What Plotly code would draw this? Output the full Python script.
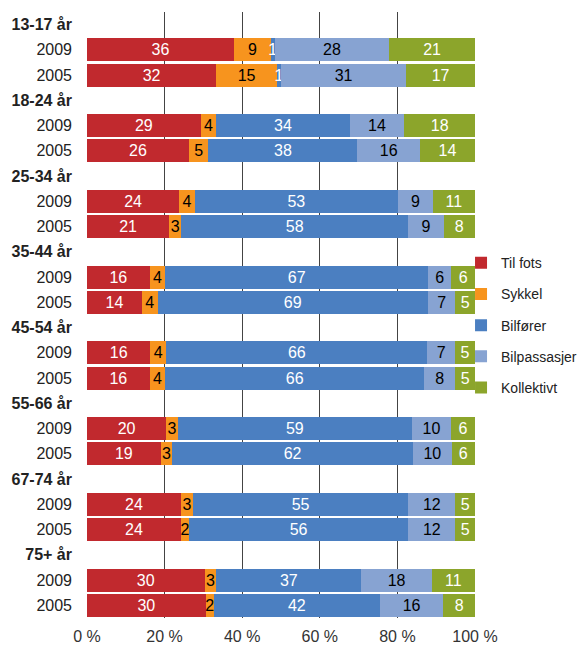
import plotly.graph_objects as go

groups = ["13-17 år", "18-24 år", "25-34 år", "35-44 år", "45-54 år", "55-66 år", "67-74 år", "75+ år"]
years = ["2009", "2005"]
modes = ["Til fots", "Sykkel", "Bilfører", "Bilpassasjer", "Kollektivt"]

# values per mode: [2009 list, 2005 list] following the groups order
til_fots = [[36, 29, 24, 16, 16, 20, 24, 30], [32, 26, 21, 14, 16, 19, 24, 30]]
sykkel = [[9, 4, 4, 4, 4, 3, 3, 3], [15, 5, 3, 4, 4, 3, 2, 2]]
bilforer = [[1, 34, 53, 67, 66, 59, 55, 37], [1, 38, 58, 69, 66, 62, 56, 42]]
bilpassasjer = [[28, 14, 9, 6, 7, 10, 12, 18], [31, 16, 9, 7, 8, 10, 12, 16]]
kollektivt = [[21, 18, 11, 6, 5, 6, 5, 11], [17, 14, 8, 5, 5, 6, 5, 8]]

x_ticks = [0, 20, 40, 60, 80, 100]

values = [til_fots, sykkel, bilforer, bilpassasjer, kollektivt]
colors = ["#C1292E", "#F7941E", "#4B7FC1", "#87A3D2", "#8CA52B"]
text_colors = ["white", "black", "white", "black", "white"]

# row layout: header row then one row per year
tick_vals, tick_text = [], []
bar_rows = []  # (row index, group index, year index)
row = 0
for gi, g in enumerate(groups):
    tick_vals.append(row)
    tick_text.append(f"<b>{g}</b>")
    row += 1
    for yi, yr in enumerate(years):
        tick_vals.append(row)
        tick_text.append(yr)
        bar_rows.append((row, gi, yi))
        row += 1
n_rows = row

fig = go.Figure()
for mi, m in enumerate(modes):
    ys = [r for r, gi, yi in bar_rows]
    xs = [values[mi][yi][gi] for r, gi, yi in bar_rows]
    fig.add_trace(go.Bar(
        name=m,
        y=ys,
        x=xs,
        orientation="h",
        marker=dict(color=colors[mi], line=dict(width=0)),
        text=[str(v) for v in xs],
        textposition="inside",
        insidetextanchor="middle",
        textangle=0,
        textfont=dict(color=text_colors[mi], size=16, family="Liberation Sans, Arial"),
        legendgroup=m,
        hoverinfo="x+name",
    ))

# page body has an 8px margin, so the figure sits a bit inside the window
fig.update_layout(
    barmode="stack",
    barnorm="percent",
    bargap=0.08,
    width=570,
    height=639,
    margin=dict(l=79, r=103, t=4, b=29, autoexpand=False),
    plot_bgcolor="white",
    paper_bgcolor="white",
    font=dict(family="Liberation Sans, Arial", size=15, color="#333333"),
    uniformtext=dict(minsize=16, mode="show"),
    legend=dict(
        x=0.964, y=0.612, xanchor="left", yanchor="top",
        traceorder="grouped", tracegroupgap=10,
        font=dict(size=14, color="#222222"),
        itemwidth=30,
        bgcolor="rgba(0,0,0,0)",
    ),
    xaxis=dict(
        range=[0, 100],
        tickvals=x_ticks,
        ticktext=[f"{t} %" for t in x_ticks],
        tickfont=dict(size=16, color="#333333"),
        showgrid=True,
        gridcolor="#444444",
        gridwidth=1,
        zeroline=False,
        showline=False,
        ticks="",
        ticklabelstandoff=7,
        automargin=False,
        fixedrange=True,
    ),
    yaxis=dict(
        tickvals=tick_vals,
        ticktext=tick_text,
        range=[n_rows - 0.5, -0.5],
        showgrid=False,
        zeroline=False,
        tickfont=dict(size=16, color="#222222"),
        ticks="",
        ticklabelstandoff=14,
        automargin=False,
    ),
)

fig.write_html("out.html")
